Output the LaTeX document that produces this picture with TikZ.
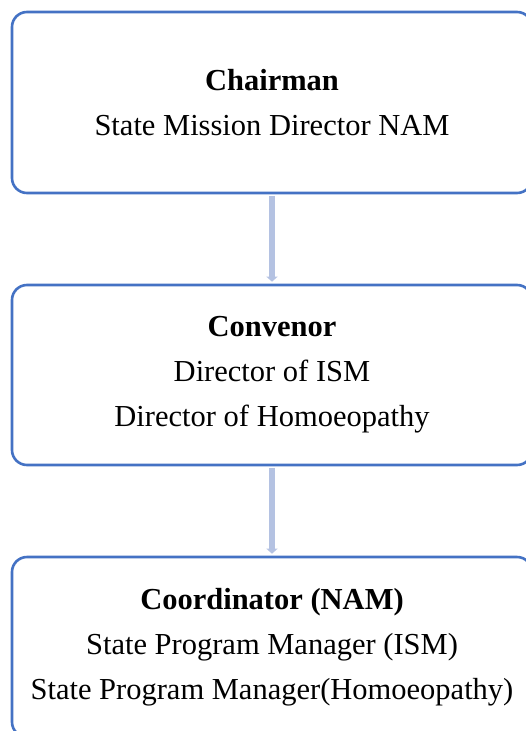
\documentclass[tikz,border=0pt]{standalone}
\usepackage{fontspec}
\setmainfont{Liberation Serif}
\usetikzlibrary{arrows.meta}
\definecolor{boxblue}{HTML}{4472C4}
\definecolor{arrowblue}{HTML}{B4C2E2}
\newcommand{\px}{1pt}

\begin{document}
\begin{tikzpicture}[x=\px, y=\px,
    orgbox/.style={draw=boxblue, line width=2.6pt, rounded corners=15pt, fill=white,
        minimum width=520pt, inner sep=0pt, align=center,
        font=\fontsize{30.5}{45}\selectfont},
    conn/.style={draw=arrowblue, line width=6pt, -{Triangle[width=11pt,length=5pt]}}]
    \useasboundingbox (0,0) rectangle (526,-731);
    \clip (0,0) rectangle (526,-731);

    % Boxes
    \node[orgbox, minimum height=181pt] (chair) at (272,-102.5)
        {\textbf{Chairman}\\State Mission Director NAM};
    \node[orgbox, minimum height=180pt] (conv) at (272,-375)
        {\textbf{Convenor}\\Director of ISM\\Director of Homoeopathy};
    \node[orgbox, minimum height=180pt] (coord) at (272,-647)
        {\textbf{Coordinator (NAM)}\\State Program Manager (ISM)\\State Program Manager(Homoeopathy)};

    % Connectors
    \draw[conn] ([yshift=-1.5pt]chair.south) -- ([yshift=2pt]conv.north);
    \draw[conn] ([yshift=-1.5pt]conv.south) -- ([yshift=2pt]coord.north);
\end{tikzpicture}
\end{document}
